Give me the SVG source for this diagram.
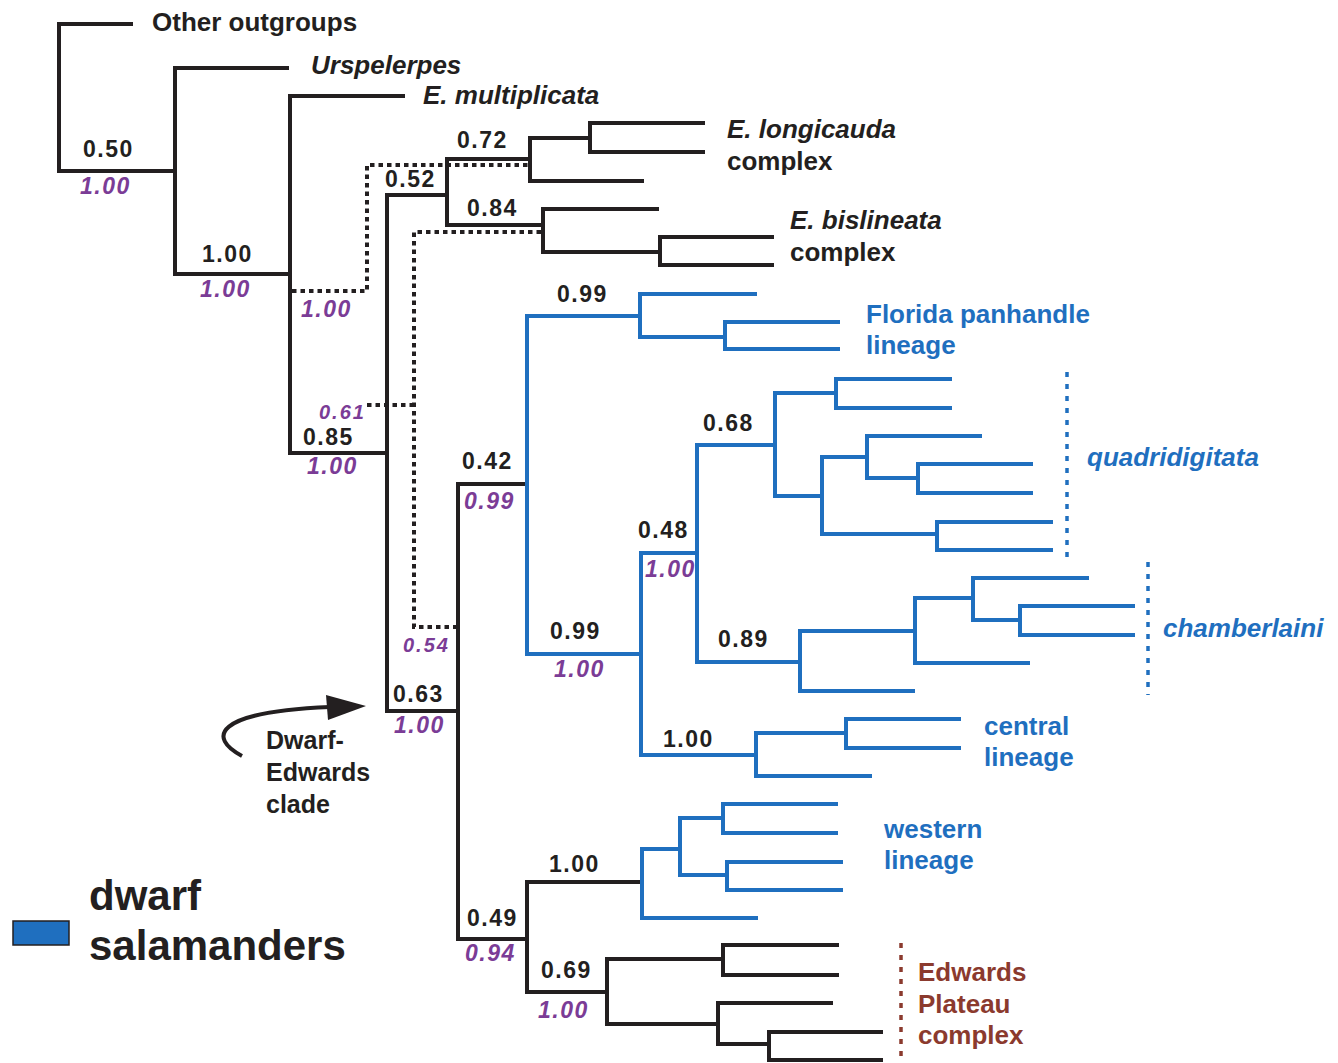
<svg xmlns="http://www.w3.org/2000/svg" width="1338" height="1063" viewBox="0 0 1338 1063">
<defs>
<style>
.br{fill:none;stroke:#231f20;stroke-width:4;stroke-linecap:butt;stroke-linejoin:miter}
.bl{stroke:#1f6fbf}
.dk{stroke-dasharray:4.5 4}
.db{fill:none;stroke:#1f6fbf;stroke-width:3.5;stroke-dasharray:5 7}
.dr{fill:none;stroke:#8b3a2e;stroke-width:3.5;stroke-dasharray:5 7}
text{font-family:"Liberation Sans",Arial,sans-serif;font-weight:bold}
.tip{font-size:26px;fill:#231f20}
.it{font-style:italic}
.blue{fill:#1f6fbf}
.red{fill:#8b3a2e}
.sv{font-size:23px;fill:#231f20;letter-spacing:1.5px}
.pp{font-size:23px;fill:#7b3c96;font-style:italic;letter-spacing:1.5px}
.ps{font-size:20px;fill:#7b3c96;font-style:italic;letter-spacing:2px}
.cl{font-size:25px;fill:#231f20}
.lg{font-size:42px;fill:#231f20}
</style>
</defs>
<rect width="1338" height="1063" fill="#ffffff"/>
<g id="connectors">
<path class="br" d="M133,24 H59 V171 H175"/>
<path class="br" d="M289,68 H175 V274 H290"/>
<path class="br" d="M405,96 H290 V453 H387"/>
<path class="br" d="M447,195 H387 V711 H458"/>
<path class="br" d="M530,159 H447 V225 H543"/>
<path class="br" d="M590,138 H530 V181 H644"/>
<path class="br" d="M705,123 H590 V152 H705"/>
<path class="br" d="M659,209 H543 V252 H660"/>
<path class="br" d="M774,237 H660 V265 H774"/>
<path class="br" d="M527,484 H458 V939 H527"/>
<path class="br" d="M642,882 H527 V992 H607"/>
<path class="br" d="M723,959 H607 V1024 H718"/>
<path class="br" d="M839,945 H723 V975 H839"/>
<path class="br" d="M833,1003 H718 V1044 H769"/>
<path class="br" d="M883,1032 H769 V1060 H883"/>
<path class="br bl" d="M640,316 H527 V654 H641"/>
<path class="br bl" d="M757,294 H640 V337 H725"/>
<path class="br bl" d="M840,322 H725 V349 H840"/>
<path class="br bl" d="M697,553 H641 V755 H756"/>
<path class="br bl" d="M775,445 H697 V662 H800"/>
<path class="br bl" d="M836,393 H775 V496 H822"/>
<path class="br bl" d="M952,379 H836 V408 H952"/>
<path class="br bl" d="M867,457 H822 V534 H937"/>
<path class="br bl" d="M982,436 H867 V478 H918"/>
<path class="br bl" d="M1033,464 H918 V493 H1033"/>
<path class="br bl" d="M1053,522 H937 V550 H1053"/>
<path class="br bl" d="M915,631 H800 V691 H915"/>
<path class="br bl" d="M973,598 H915 V663 H1030"/>
<path class="br bl" d="M1089,578 H973 V620 H1020"/>
<path class="br bl" d="M1135,606 H1020 V635 H1135"/>
<path class="br bl" d="M846,733 H756 V776 H872"/>
<path class="br bl" d="M961,719 H846 V748 H961"/>
<path class="br bl" d="M680,849 H642 V918 H758"/>
<path class="br bl" d="M723,818 H680 V875 H727"/>
<path class="br bl" d="M838,804 H723 V833 H838"/>
<path class="br bl" d="M843,862 H727 V890 H843"/>
<path class="br dk" d="M292,291 H367 V165 H528"/>
<path class="br dk" d="M367,405 H414"/>
<path class="br dk" d="M541,232 H414 V627 H456"/>
<path class="db" d="M1067,372 V559"/>
<path class="db" d="M1148,562 V695"/>
<path class="dr" d="M901,943 V1063"/>
<path d="M242,756 C208,738 212,712 330,707" fill="none" stroke="#231f20" stroke-width="4"/>
<polygon points="366,706 326,695 328,720" fill="#231f20"/>
</g>
<g id="tip-other-outgroups"><text class="tip" x="152" y="31">Other outgroups</text></g>
<g id="tip-urspelerpes"><text class="tip it" x="311" y="74">Urspelerpes</text></g>
<g id="tip-multiplicata"><text class="tip it" x="423" y="104">E. multiplicata</text></g>
<g id="tip-longicauda"><text class="tip it" x="727" y="138">E. longicauda</text><text class="tip" x="727" y="170">complex</text></g>
<g id="tip-bislineata"><text class="tip it" x="790" y="229">E. bislineata</text><text class="tip" x="790" y="261">complex</text></g>
<g id="tip-florida"><text class="tip blue" x="866" y="323">Florida panhandle</text><text class="tip blue" x="866" y="354">lineage</text></g>
<g id="tip-quadridigitata"><text class="tip it blue" x="1087" y="466">quadridigitata</text></g>
<g id="tip-chamberlaini"><text class="tip it blue" x="1163" y="637">chamberlaini</text></g>
<g id="tip-central"><text class="tip blue" x="984" y="735">central</text><text class="tip blue" x="984" y="766">lineage</text></g>
<g id="tip-western"><text class="tip blue" x="884" y="838">western</text><text class="tip blue" x="884" y="869">lineage</text></g>
<g id="tip-edwards"><text class="tip red" x="918" y="981">Edwards</text><text class="tip red" x="918" y="1013">Plateau</text><text class="tip red" x="918" y="1044">complex</text></g>
<g id="clade-label"><text class="cl" x="266" y="749">Dwarf-</text><text class="cl" x="266" y="781">Edwards</text><text class="cl" x="266" y="813">clade</text></g>
<g id="legend"><rect x="13" y="921" width="56" height="24" fill="#1f6fbf" stroke="#231f20" stroke-width="1.5"/><text class="lg" x="89" y="910">dwarf</text><text class="lg" x="89" y="960">salamanders</text></g>
<g id="support-values">
<text class="sv" x="83" y="157">0.50</text>
<text class="sv" x="202" y="262">1.00</text>
<text class="sv" x="457" y="148">0.72</text>
<text class="sv" x="385" y="187">0.52</text>
<text class="sv" x="467" y="216">0.84</text>
<text class="sv" x="557" y="302">0.99</text>
<text class="sv" x="303" y="445">0.85</text>
<text class="sv" x="462" y="469">0.42</text>
<text class="sv" x="703" y="431">0.68</text>
<text class="sv" x="638" y="538">0.48</text>
<text class="sv" x="550" y="639">0.99</text>
<text class="sv" x="718" y="647">0.89</text>
<text class="sv" x="393" y="702">0.63</text>
<text class="sv" x="663" y="747">1.00</text>
<text class="sv" x="549" y="872">1.00</text>
<text class="sv" x="467" y="926">0.49</text>
<text class="sv" x="541" y="978">0.69</text>
</g>
<g id="posterior-values">
<text class="pp" x="80" y="194">1.00</text>
<text class="pp" x="200" y="297">1.00</text>
<text class="pp" x="301" y="317">1.00</text>
<text class="ps" x="319" y="419">0.61</text>
<text class="pp" x="307" y="474">1.00</text>
<text class="pp" x="464" y="509">0.99</text>
<text class="pp" x="645" y="577">1.00</text>
<text class="ps" x="403" y="652">0.54</text>
<text class="pp" x="554" y="677">1.00</text>
<text class="pp" x="394" y="733">1.00</text>
<text class="pp" x="465" y="961">0.94</text>
<text class="pp" x="538" y="1018">1.00</text>
</g>
</svg>
